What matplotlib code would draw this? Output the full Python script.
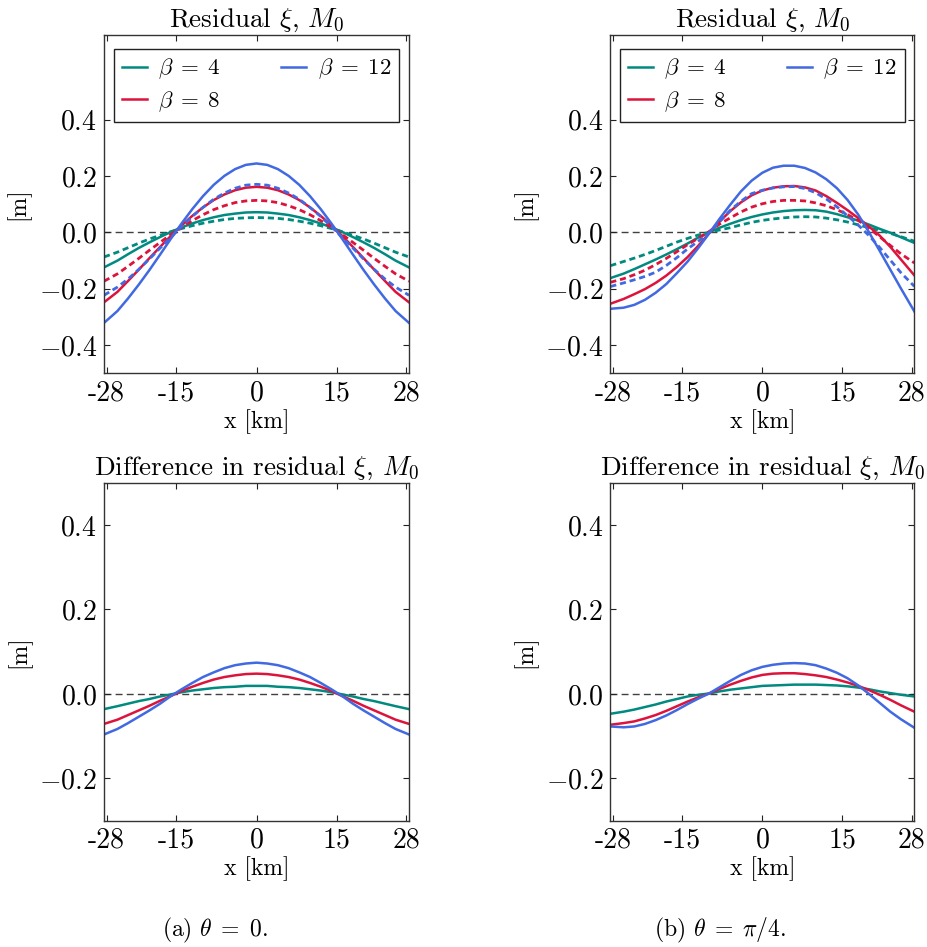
import matplotlib
matplotlib.use("Agg")
from matplotlib import pyplot as plt

plt.rcParams['font.family'] = 'serif'
plt.rcParams['font.serif'] = ['cmr10']
plt.rcParams['mathtext.fontset'] = 'cm'
plt.rcParams['axes.unicode_minus'] = False
plt.rcParams['axes.formatter.use_mathtext'] = True

# x positions [km]
x_km = [-28.5, -26, -24, -22, -20, -18, -16, -14, -12, -10, -8, -6, -4, -2, 0,
        2, 4, 6, 8, 10, 12, 14, 16, 18, 20, 22, 24, 26, 28.5]

betas = [4, 8, 12]
cores = ['#008a80', '#dc143c', '#4169e1']

# theta = 0, residual (solid) and dashed reference
res0_b4 = [-0.125, -0.101, -0.078, -0.056, -0.036, -0.017, 0.001, 0.017, 0.031, 0.043, 0.053, 0.061, 0.066, 0.070, 0.071,
           0.070, 0.066, 0.061, 0.053, 0.043, 0.031, 0.017, 0.001, -0.017, -0.036, -0.056, -0.078, -0.101, -0.125]
res0_b8 = [-0.249, -0.212, -0.173, -0.133, -0.092, -0.052, -0.013, 0.024, 0.058, 0.088, 0.114, 0.134, 0.149, 0.158, 0.161,
           0.158, 0.149, 0.134, 0.114, 0.088, 0.058, 0.024, -0.013, -0.052, -0.092, -0.133, -0.173, -0.212, -0.249]
res0_b12 = [-0.322, -0.280, -0.235, -0.186, -0.134, -0.079, -0.023, 0.031, 0.082, 0.128, 0.168, 0.200, 0.224, 0.239, 0.244,
            0.239, 0.224, 0.200, 0.168, 0.128, 0.082, 0.031, -0.023, -0.079, -0.134, -0.186, -0.235, -0.280, -0.322]
ref0_b4 = [-0.088, -0.071, -0.055, -0.039, -0.024, -0.011, 0.002, 0.013, 0.023, 0.032, 0.039, 0.045, 0.049, 0.051, 0.052,
           0.051, 0.049, 0.045, 0.039, 0.032, 0.023, 0.013, 0.002, -0.011, -0.024, -0.039, -0.055, -0.071, -0.088]
ref0_b8 = [-0.174, -0.148, -0.121, -0.093, -0.064, -0.036, -0.008, 0.017, 0.041, 0.062, 0.080, 0.094, 0.105, 0.111, 0.113,
           0.111, 0.105, 0.094, 0.080, 0.062, 0.041, 0.017, -0.008, -0.036, -0.064, -0.093, -0.121, -0.148, -0.174]
ref0_b12 = [-0.224, -0.195, -0.166, -0.132, -0.095, -0.056, -0.018, 0.020, 0.056, 0.088, 0.117, 0.139, 0.156, 0.167, 0.170,
            0.167, 0.156, 0.139, 0.117, 0.088, 0.056, 0.020, -0.018, -0.056, -0.095, -0.132, -0.166, -0.195, -0.224]

# theta = 0, difference
dif0_b4 = [-0.036, -0.029, -0.023, -0.017, -0.012, -0.006, -0.001, 0.004, 0.008, 0.011, 0.014, 0.016, 0.017, 0.019, 0.019,
           0.019, 0.017, 0.016, 0.014, 0.011, 0.008, 0.004, -0.001, -0.006, -0.012, -0.017, -0.023, -0.029, -0.036]
dif0_b8 = [-0.071, -0.061, -0.050, -0.039, -0.028, -0.016, -0.005, 0.007, 0.017, 0.026, 0.034, 0.040, 0.044, 0.047, 0.048,
           0.047, 0.044, 0.040, 0.034, 0.026, 0.017, 0.007, -0.005, -0.016, -0.028, -0.039, -0.050, -0.061, -0.071]
dif0_b12 = [-0.096, -0.083, -0.069, -0.054, -0.039, -0.023, -0.005, 0.011, 0.026, 0.040, 0.051, 0.061, 0.068, 0.072, 0.074,
            0.072, 0.068, 0.061, 0.051, 0.040, 0.026, 0.011, -0.005, -0.023, -0.039, -0.054, -0.069, -0.083, -0.096]

# theta = pi/4
res4_b4 = [-0.163, -0.147, -0.131, -0.114, -0.097, -0.079, -0.060, -0.040, -0.019, -0.001, 0.016, 0.030, 0.043, 0.054, 0.063,
           0.070, 0.075, 0.078, 0.079, 0.078, 0.073, 0.064, 0.053, 0.041, 0.027, 0.012, -0.002, -0.018, -0.038]
res4_b8 = [-0.254, -0.237, -0.220, -0.202, -0.180, -0.154, -0.123, -0.088, -0.048, -0.004, 0.038, 0.075, 0.106, 0.131, 0.148,
           0.158, 0.163, 0.164, 0.159, 0.148, 0.128, 0.104, 0.078, 0.050, 0.020, -0.012, -0.052, -0.097, -0.153]
res4_b12 = [-0.272, -0.268, -0.258, -0.240, -0.215, -0.184, -0.145, -0.104, -0.056, -0.005, 0.048, 0.098, 0.145, 0.183, 0.211,
            0.229, 0.236, 0.236, 0.228, 0.212, 0.188, 0.156, 0.114, 0.062, 0.000, -0.066, -0.133, -0.200, -0.281]
ref4_b4 = [-0.119, -0.104, -0.092, -0.079, -0.065, -0.050, -0.035, -0.022, -0.010, 0.000, 0.008, 0.016, 0.026, 0.035, 0.042,
           0.047, 0.051, 0.054, 0.055, 0.054, 0.050, 0.044, 0.036, 0.026, 0.016, 0.006, -0.004, -0.016, -0.032]
ref4_b8 = [-0.178, -0.165, -0.151, -0.135, -0.115, -0.093, -0.069, -0.044, -0.021, 0.002, 0.029, 0.051, 0.072, 0.089, 0.101,
           0.109, 0.113, 0.113, 0.111, 0.104, 0.094, 0.080, 0.062, 0.042, 0.014, -0.016, -0.047, -0.077, -0.109]
ref4_b12 = [-0.193, -0.180, -0.169, -0.157, -0.142, -0.118, -0.090, -0.059, -0.032, -0.002, 0.038, 0.078, 0.110, 0.137, 0.149,
            0.157, 0.161, 0.162, 0.155, 0.140, 0.118, 0.090, 0.058, 0.025, -0.012, -0.054, -0.099, -0.144, -0.192]

dif4_b4 = [-0.047, -0.042, -0.037, -0.031, -0.025, -0.018, -0.012, -0.006, -0.002, 0.001, 0.006, 0.010, 0.013, 0.016, 0.019,
           0.020, 0.021, 0.022, 0.022, 0.022, 0.021, 0.020, 0.018, 0.015, 0.011, 0.006, 0.002, -0.002, -0.006]
dif4_b8 = [-0.073, -0.069, -0.065, -0.058, -0.050, -0.040, -0.029, -0.018, -0.008, 0.001, 0.012, 0.022, 0.031, 0.039, 0.045,
           0.048, 0.049, 0.049, 0.047, 0.044, 0.040, 0.034, 0.027, 0.019, 0.009, -0.002, -0.014, -0.027, -0.042]
dif4_b12 = [-0.077, -0.079, -0.077, -0.071, -0.062, -0.051, -0.038, -0.024, -0.011, 0.001, 0.016, 0.031, 0.045, 0.056, 0.064,
            0.069, 0.072, 0.073, 0.072, 0.068, 0.060, 0.050, 0.037, 0.020, 0.000, -0.021, -0.042, -0.060, -0.080]

xtick_vals = [-28, -15, 0, 15, 28]
xtick_txt = ['-28', '-15', '0', '15', '28']


def arruma_eixo(ax, yticks, ylim, titulo):
    ax.axhline(0, color='#404040', lw=1.0, dashes=(5, 3), zorder=1)
    ax.set_xlim(-28.5, 28.5)
    ax.set_ylim(*ylim)
    ax.set_xticks(xtick_vals)
    ax.set_xticklabels(xtick_txt)
    ax.set_yticks(yticks)
    ax.set_yticklabels(['$%.1f$' % v for v in yticks])
    ax.tick_params(direction='in', top=True, right=True, length=4, width=0.8,
                   labelsize=20, pad=5, color='#222222')
    for s in ax.spines.values():
        s.set_color('#333333')
        s.set_linewidth(1.0)
    ax.set_xlabel('x [km]', fontsize=17, labelpad=2)
    ax.set_ylabel('[m]', fontsize=17, labelpad=6)
    ax.set_title(titulo, fontsize=19.5, pad=6)


fig = plt.figure(figsize=(9.27, 9.47), dpi=100)

# posicoes dos eixos em fracao da figura
ax_tl = fig.add_axes([0.1122, 0.6061, 0.3290, 0.3569])
ax_tr = fig.add_axes([0.6584, 0.6061, 0.3279, 0.3569])
ax_bl = fig.add_axes([0.1122, 0.1334, 0.3290, 0.3569])
ax_br = fig.add_axes([0.6584, 0.1334, 0.3279, 0.3569])

paineis_topo = [(ax_tl, [res0_b4, res0_b8, res0_b12], [ref0_b4, ref0_b8, ref0_b12]),
                (ax_tr, [res4_b4, res4_b8, res4_b12], [ref4_b4, ref4_b8, ref4_b12])]
for ax, solidas, tracejadas in paineis_topo:
    for b, c, ys, yd in zip(betas, cores, solidas, tracejadas):
        ax.plot(x_km, yd, color=c, lw=2.0, dashes=(2.2, 1.4))
        ax.plot(x_km, ys, color=c, lw=1.8, label=r'$\beta\;=\;%d$' % b)
    arruma_eixo(ax, [-0.4, -0.2, 0.0, 0.2, 0.4], (-0.5, 0.7), r'Residual $\xi$, $M_0$')
    leg = ax.legend(loc='upper center', ncol=2, fontsize=16.5, handlelength=1.1,
                    handletextpad=0.5, columnspacing=2.6, labelspacing=0.35,
                    borderpad=0.35, fancybox=False, framealpha=1, borderaxespad=0.6)
    leg.get_frame().set_edgecolor('#222222')
    leg.get_frame().set_linewidth(1.0)

paineis_baixo = [(ax_bl, [dif0_b4, dif0_b8, dif0_b12]),
                 (ax_br, [dif4_b4, dif4_b8, dif4_b12])]
for ax, difs in paineis_baixo:
    for c, yv in zip(cores, difs):
        ax.plot(x_km, yv, color=c, lw=1.8)
    arruma_eixo(ax, [-0.2, 0.0, 0.2, 0.4], (-0.3, 0.5), r'Difference in residual $\xi$, $M_0$')

fig.text(0.232, 0.018, r'(a) $\theta\;=\;0$.', ha='center', va='center', fontsize=17)
fig.text(0.777, 0.018, r'(b) $\theta\;=\;\pi/4$.', ha='center', va='center', fontsize=17)

fig.savefig('out.png', dpi=100)
